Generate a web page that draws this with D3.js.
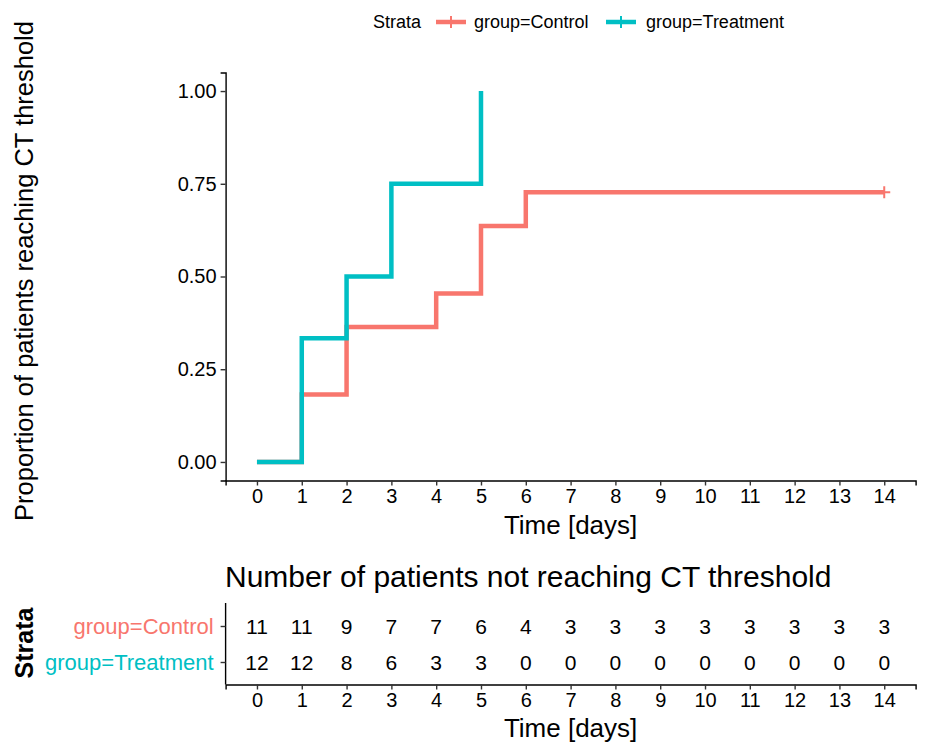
<!DOCTYPE html>
<html>
<head>
<meta charset="utf-8">
<script src="https://cdn.jsdelivr.net/npm/d3@7"></script>
<style>
html,body{margin:0;padding:0;background:#fff;}
svg text{font-family:"Liberation Sans",Arial,Helvetica,sans-serif;fill:#000;}
</style>
</head>
<body>
<svg id="chart" width="929" height="747"></svg>
<script>
// ---- data ----
const groups = ["group=Control", "group=Treatment"];
const groupColors = ["#F8766D", "#00BFC4"];
const controlTimes = [0, 1, 2, 4, 5, 6, 14];
const controlValues = [0, 0.1818, 0.3636, 0.4545, 0.6364, 0.7273, 0.7273];
const treatmentTimes = [0, 1, 2, 3, 5];
const treatmentValues = [0, 0.3333, 0.5, 0.75, 1.0];
const censorTimes = [14];
const censorValues = [0.7273];
const yTicks = [0, 0.25, 0.5, 0.75, 1.0];
const xTicks = [0,1,2,3,4,5,6,7,8,9,10,11,12,13,14];
const riskTimes = [0,1,2,3,4,5,6,7,8,9,10,11,12,13,14];
const controlRisk = [11,11,9,7,7,6,4,3,3,3,3,3,3,3,3];
const treatmentRisk = [12,12,8,6,3,3,0,0,0,0,0,0,0,0,0];

const svg = d3.select("#chart");

// ---- scales ----
const x = d3.scaleLinear().domain([-0.7, 14.7]).range([225.6, 915.6]);
const y = d3.scaleLinear().domain([-0.05, 1.05]).range([480.5, 72.5]);

// ---- main axes ----
const yAxis = svg.append("g").attr("transform", "translate(225.6,0)")
  .call(d3.axisLeft(y).tickValues(yTicks).tickFormat(d3.format(".2f")).tickSizeOuter(0).tickSize(5).tickPadding(4));
const xAxis = svg.append("g").attr("transform", "translate(0,480.5)")
  .call(d3.axisBottom(x).tickValues(xTicks).tickFormat(d3.format("d")).tickSizeOuter(0).tickSize(5).tickPadding(3));
[yAxis, xAxis].forEach(a => {
  a.select(".domain").attr("stroke", "#000").attr("stroke-width", 1.4);
  a.selectAll(".tick line").attr("stroke", "#333").attr("stroke-width", 1.4);
  a.selectAll(".tick text").attr("font-size", 20).attr("fill", "#000").style("font-family", "'Liberation Sans',Arial,sans-serif");
});

// ---- curves ----
const line = d3.line().x(d => x(d[0])).y(d => y(d[1])).curve(d3.curveStepAfter);
const ctrlData = controlTimes.map((t, i) => [t, controlValues[i]]);
const trtData = treatmentTimes.map((t, i) => [t, treatmentValues[i]]);
svg.append("path").attr("d", line(ctrlData)).attr("fill", "none")
  .attr("stroke", groupColors[0]).attr("stroke-width", 4.5);
svg.append("path").attr("d", line(trtData)).attr("fill", "none")
  .attr("stroke", groupColors[1]).attr("stroke-width", 4.5);

// censor marks
censorTimes.forEach((t, i) => {
  const cx = x(t), cy = y(censorValues[i]);
  svg.append("path").attr("d", `M${cx-6},${cy}H${cx+6}M${cx},${cy-6}V${cy+6}`)
    .attr("stroke", groupColors[0]).attr("stroke-width", 2).attr("fill", "none");
});

// ---- axis titles ----
svg.append("text").attr("x", x(7)).attr("y", 525).attr("dy", "0.35em")
  .attr("text-anchor", "middle").attr("font-size", 26).text("Time [days]");
svg.append("text").attr("transform", "translate(33,271) rotate(-90)")
  .attr("text-anchor", "middle").attr("font-size", 25.5).text("Proportion of patients reaching CT threshold");

// ---- legend ----
const leg = svg.append("g");
leg.append("text").attr("x", 373).attr("y", 22).attr("dy", "0.35em").attr("font-size", 18).text("Strata");
const legItems = [{x0: 436, tx: 474}, {x0: 606, tx: 646}];
legItems.forEach((it, i) => {
  leg.append("line").attr("x1", it.x0).attr("x2", it.x0 + 30).attr("y1", 22).attr("y2", 22)
    .attr("stroke", groupColors[i]).attr("stroke-width", 4.5);
  leg.append("line").attr("x1", it.x0 + 15).attr("x2", it.x0 + 15).attr("y1", 16).attr("y2", 28)
    .attr("stroke", groupColors[i]).attr("stroke-width", 2);
  leg.append("text").attr("x", it.tx).attr("y", 22).attr("dy", "0.35em").attr("font-size", 18).text(groups[i]);
});

// ---- risk table ----
svg.append("text").attr("x", 225).attr("y", 576).attr("dy", "0.35em").attr("font-size", 30)
  .text("Number of patients not reaching CT threshold");

const yt = d3.scalePoint().domain(["group=Treatment", "group=Control"]).range([662.5, 626.5]);
const tYAxis = svg.append("g").attr("transform", "translate(225.6,0)");
tYAxis.append("line").attr("x1", 0).attr("x2", 0).attr("y1", 603).attr("y2", 684.5)
  .attr("stroke", "#000").attr("stroke-width", 1.4);
groups.forEach((g, i) => {
  tYAxis.append("line").attr("x1", -5).attr("x2", 0).attr("y1", yt(g)).attr("y2", yt(g))
    .attr("stroke", "#333").attr("stroke-width", 1.4);
  tYAxis.append("text").attr("x", -12).attr("y", yt(g)).attr("dy", "0.35em")
    .attr("text-anchor", "end").attr("font-size", 22).style("fill", groupColors[i]).text(g);
});
const tXAxis = svg.append("g").attr("transform", "translate(0,684.5)")
  .call(d3.axisBottom(x).tickValues(xTicks).tickFormat(d3.format("d")).tickSizeOuter(0).tickSize(5).tickPadding(3));
tXAxis.select(".domain").attr("stroke", "#000").attr("stroke-width", 1.4);
tXAxis.selectAll(".tick line").attr("stroke", "#333").attr("stroke-width", 1.4);
tXAxis.selectAll(".tick text").attr("font-size", 20).attr("fill", "#000").style("font-family", "'Liberation Sans',Arial,sans-serif");

svg.append("text").attr("x", x(7)).attr("y", 728).attr("dy", "0.35em")
  .attr("text-anchor", "middle").attr("font-size", 26).text("Time [days]");
svg.append("text").attr("transform", "translate(33,643) rotate(-90)")
  .attr("text-anchor", "middle").attr("font-size", 25).attr("font-weight", "bold").text("Strata");

const riskRows = [controlRisk, treatmentRisk];
riskRows.forEach((row, gi) => {
  svg.append("g").selectAll("text").data(row).join("text")
    .attr("x", (d, i) => x(riskTimes[i])).attr("y", yt(groups[gi])).attr("dy", "0.35em")
    .attr("text-anchor", "middle").attr("font-size", 21).text(d => d);
});
</script>
</body>
</html>
